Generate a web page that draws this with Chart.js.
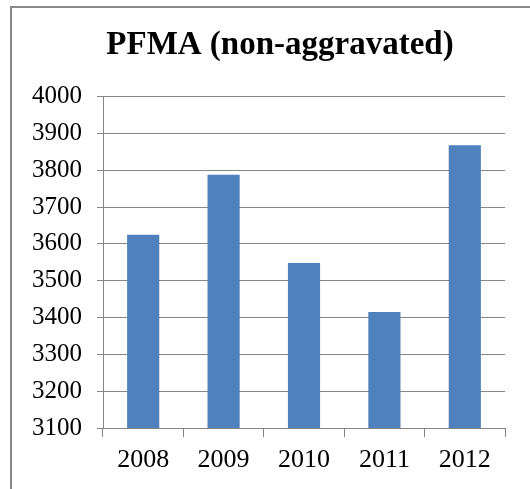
<!DOCTYPE html>
<html>
<head>
<meta charset="utf-8">
<script src="https://cdn.jsdelivr.net/npm/chart.js@4"></script>
<style>
    html, body { margin: 0; padding: 0; background: #fff; overflow: hidden; }
    #wrap { position: relative; width: 530px; height: 489px; }
    #frame {
        position: absolute; left: 10px; top: 6px; width: 600px; height: 600px;
        border: 2px solid #898989; pointer-events: none;
    }
    canvas { position: absolute; left: 0; top: 0; }
</style>
</head>
<body>
<div id="wrap">
    <canvas id="chart" width="530" height="489"></canvas>
    <div id="frame"></div>
</div>
<script>
// Chart data
const years = ['2008', '2009', '2010', '2011', '2012'];
const offences = [3625, 3788, 3548, 3415, 3868];
const yMin = 3100;
const yMax = 4000;
const yStep = 100;

const gridColor = '#868686';
const serif = '"Liberation Serif", "Times New Roman", serif';

// title is centred over the whole frame, not over the plot area
const shiftTitle = {
    id: 'shiftTitle',
    afterLayout: function(chart) {
        if (chart.titleBlock) {
            chart.titleBlock.left = 55;
        }
    }
};

document.addEventListener('DOMContentLoaded', function() {
    const ctx = document.getElementById('chart');

    new Chart(ctx, {
        type: 'bar',
        data: {
            labels: years,
            datasets: [{
                data: offences,
                backgroundColor: '#4F81BD',
                borderWidth: 0,
                barPercentage: 0.4,
                categoryPercentage: 1.0
            }]
        },
        options: {
            responsive: false,
            animation: false,
            layout: {
                padding: { left: 0, right: 25, top: 0, bottom: 11 }
            },
            plugins: {
                legend: { display: false },
                tooltip: { enabled: false },
                title: {
                    display: true,
                    text: 'PFMA (non-aggravated)',
                    color: '#000',
                    font: { family: serif, size: 33, weight: 'bold' },
                    padding: { top: 26, bottom: 31 }
                }
            },
            scales: {
                x: {
                    afterFit: function(scale) { scale.height = 50; },
                    grid: {
                        drawOnChartArea: false,
                        drawTicks: true,
                        tickLength: 9,
                        color: gridColor,
                        offset: true
                    },
                    border: { display: true, color: gridColor },
                    ticks: {
                        color: '#000',
                        padding: 8,
                        font: { family: serif, size: 26 }
                    }
                },
                y: {
                    min: yMin,
                    max: yMax,
                    afterFit: function(scale) { scale.width = 103; },
                    grid: {
                        color: gridColor,
                        tickLength: 6
                    },
                    border: { display: true, color: gridColor },
                    ticks: {
                        stepSize: yStep,
                        color: '#000',
                        padding: 15,
                        font: { family: serif, size: 25 },
                        callback: function(value) { return String(value); }
                    }
                }
            }
        },
        plugins: [shiftTitle]
    });
});
</script>
</body>
</html>
